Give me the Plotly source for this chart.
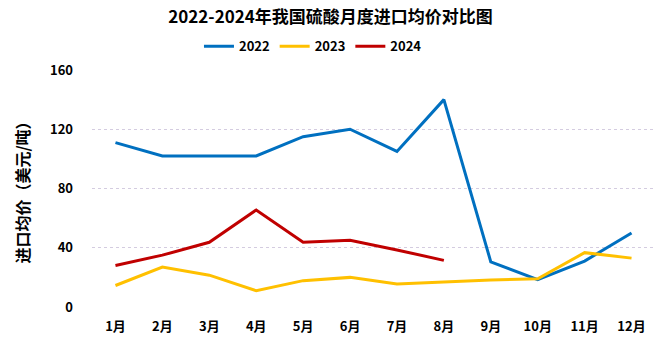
import plotly.graph_objects as go

months = ["1月", "2月", "3月", "4月", "5月", "6月", "7月", "8月", "9月", "10月", "11月", "12月"]
price_2022 = [111, 102, 102, 102, 115, 120, 105, 140, 30.5, 18.5, 31, 50]
price_2023 = [14.5, 27, 21.5, 11, 17.8, 20, 15.5, 17, 18.2, 19, 36.7, 33]
price_2024 = [28, 35, 43.7, 65.5, 43.7, 45, 38.5, 31.5]
y_ticks = [0, 40, 80, 120, 160]

series = [
    ("2022", price_2022, "#0070C0"),
    ("2023", price_2023, "#FFC000"),
    ("2024", price_2024, "#C00000"),
]

fig = go.Figure()
for name, vals, color in series:
    fig.add_trace(go.Scatter(
        x=months[:len(vals)], y=vals, name=name, mode="lines",
        line=dict(color=color, width=3),
    ))

font_cjk = "Noto Sans CJK SC, Noto Sans, sans-serif"

fig.update_layout(
    width=661, height=340,
    margin=dict(l=92, r=6, t=70, b=33),
    paper_bgcolor="white", plot_bgcolor="white",
    font=dict(family=font_cjk, color="black"),
    title=dict(
        text="<b>2022-2024年我国硫酸月度进口均价对比图</b>",
        x=0.5, xanchor="center", y=0.95, yanchor="middle",
        font=dict(size=17, color="black", family=font_cjk),
    ),
    legend=dict(
        orientation="h", x=0.19, xanchor="left",
        y=1.1, yanchor="middle",
        font=dict(size=13, color="black", family=font_cjk, weight="bold"),
        itemwidth=30, tracegroupgap=0,
    ),
    showlegend=True,
)

fig.update_xaxes(
    type="category", range=[-0.5, 11.5],
    showgrid=False, showline=False, zeroline=False, ticks="",
    ticklabelstandoff=10,
    tickfont=dict(size=13, color="black", family=font_cjk, weight="bold"),
)
fig.update_yaxes(
    range=[0, 160], tickvals=y_ticks,
    showgrid=True, gridcolor="#D4CCE0", gridwidth=1, griddash="dot",
    zeroline=False, showline=False, ticks="",
    tickfont=dict(size=13, color="black", family=font_cjk, weight="bold"),
    ticklabelstandoff=18,
    title=dict(text="进口均价（美元/吨）", standoff=16,
               font=dict(size=16, color="black", family=font_cjk, weight="bold")),
)

fig.write_html("out.html")
